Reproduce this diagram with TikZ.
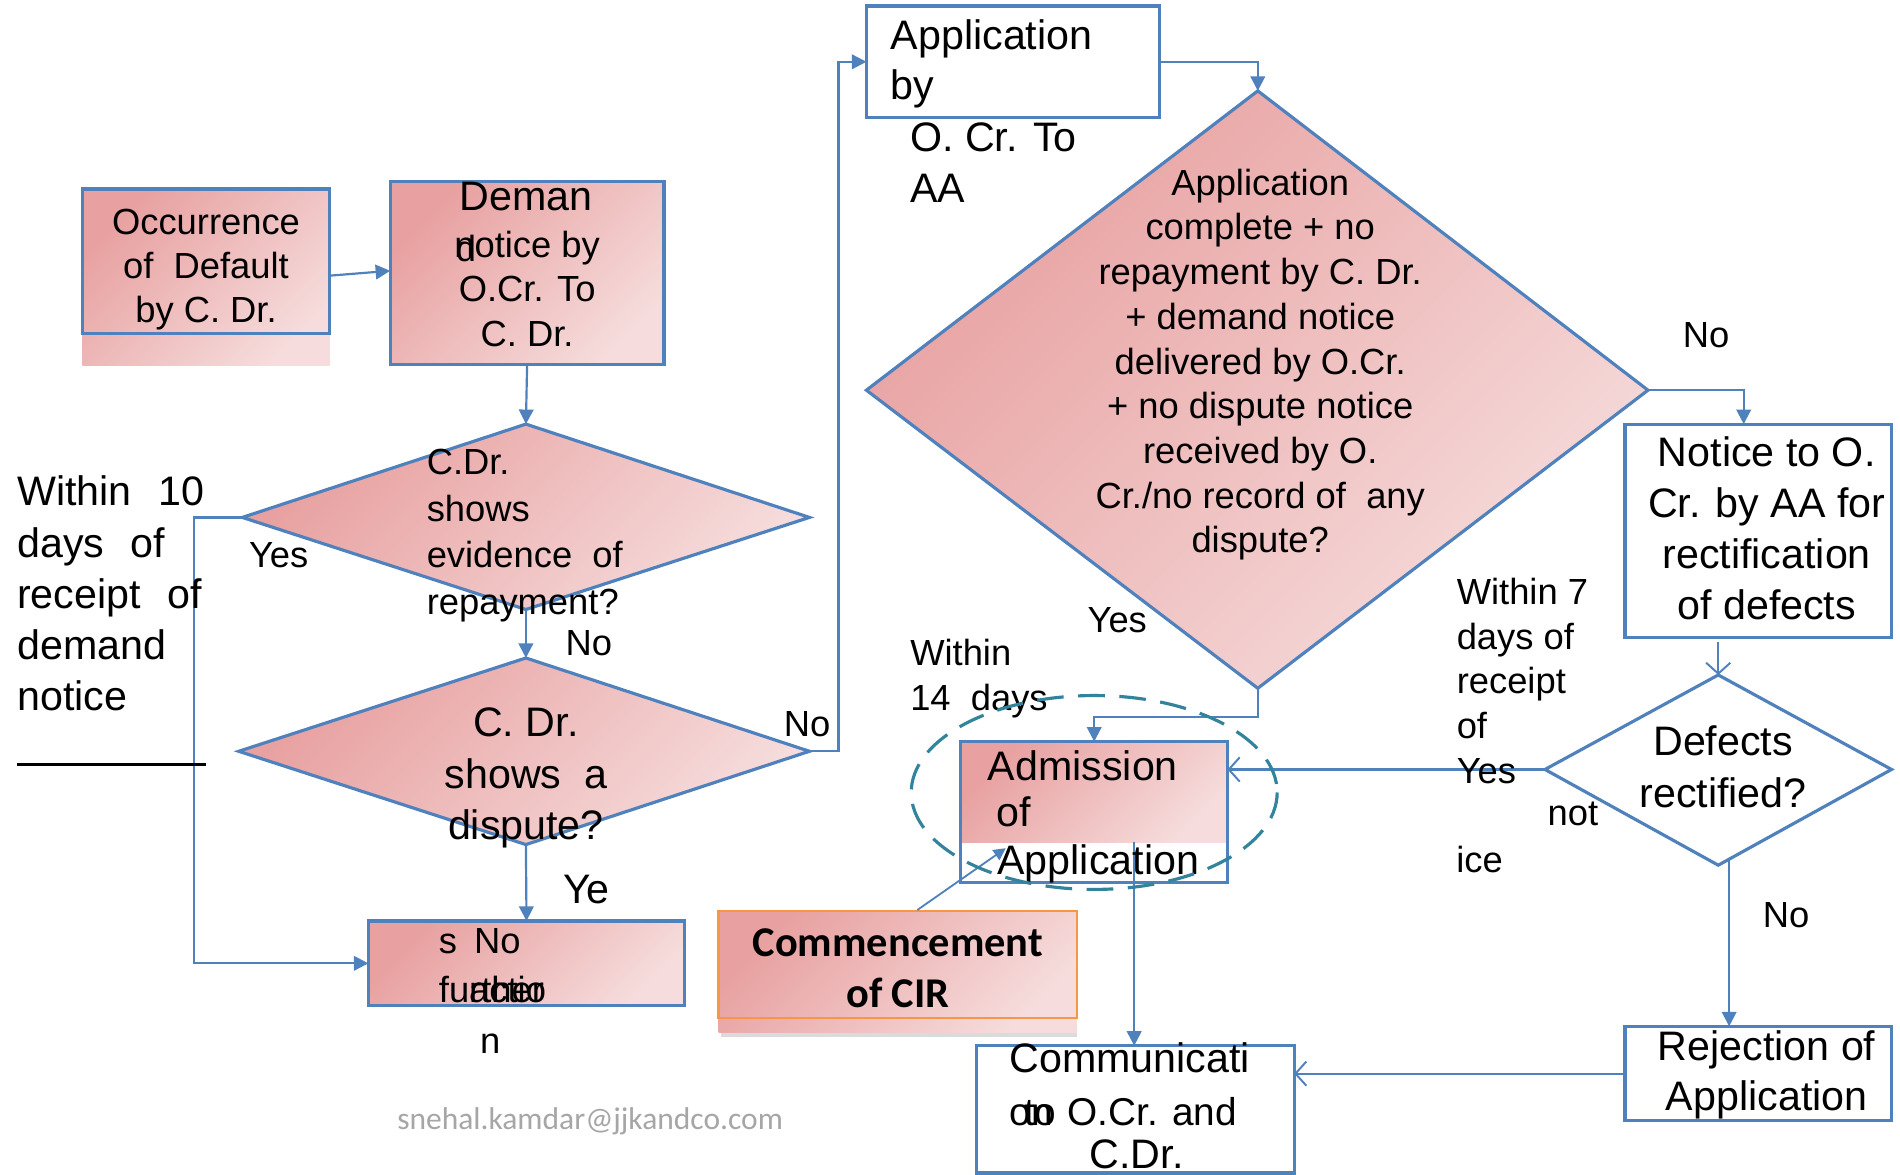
\documentclass[tikz,border=0pt]{standalone}
\usepackage{fontspec}
\setmainfont{Liberation Sans}
\newfontfamily\calfont{Carlito}
\usetikzlibrary{arrows.meta,calc}
\definecolor{bl}{HTML}{4F81BD}
\definecolor{pkA}{HTML}{E8A0A0}
\definecolor{pkB}{HTML}{F6DCDC}
\definecolor{tealdash}{HTML}{31849B}
\definecolor{orng}{HTML}{F79646}
\definecolor{mailgray}{HTML}{A6A6A6}
\begin{document}
\begin{tikzpicture}[x=1pt,y=-1pt,
  boxnode/.style={draw=bl, line width=2.6pt, inner sep=0pt, outer sep=0pt},
  pinkfill/.style={top color=pkA, bottom color=pkB, shading angle=45},
  conn/.style={draw=bl, line width=1.8pt, -{Triangle[length=12pt,width=12pt]}},
  openconn/.style={draw=bl, line width=1.8pt, -{Straight Barb[length=9pt,width=20pt,line width=1.6pt]}},
  lbl/.style={inner sep=0pt, align=center},
  lbll/.style={inner sep=0pt, align=left, anchor=west},
  ln/.style={inner sep=0pt, anchor=base west},
  f30/.style={font=\fontsize{30}{37}\selectfont},
  f34/.style={font=\fontsize{34}{42}\selectfont},
  diam/.style={draw=bl, line width=2.6pt, line join=miter},
]
\fill[white] (0,0) rectangle (1568,969);
\useasboundingbox (0,0) rectangle (1568,969);

% ---------- boxes ----------
\shade[pinkfill] (68,156) rectangle (272,302);
\node[boxnode, minimum width=204pt, minimum height=119pt] (occ) at (170,215.5) {};
\node[boxnode, pinkfill, minimum width=226pt, minimum height=151pt] (dem) at (435,225.5) {};
\node[boxnode, pinkfill, minimum width=261pt, minimum height=70pt] (nf) at (434.5,795) {};
\node[boxnode, fill=white, minimum width=242pt, minimum height=92pt] (app) at (836,51) {};
\node[boxnode, fill=white, minimum width=220pt, minimum height=176pt] (notc) at (1451,438) {};
\node[boxnode, fill=white, minimum width=220pt, minimum height=78pt] (rej) at (1451,886) {};
\shade[pinkfill] (793,612) rectangle (1013,695);
\node[boxnode, minimum width=220pt, minimum height=116pt] (adm) at (903,670) {};
\node[boxnode, fill=white, minimum width=262pt, minimum height=105pt] (com) at (937,915.5) {};
\fill[black!14] (595,852) rectangle (889,856);
\shade[pinkfill] (593,752) rectangle (889,852);
\node[draw=orng, line width=2pt, inner sep=0pt, minimum width=296pt, minimum height=88pt] (cir) at (741,796) {};

% ---------- decision diamonds ----------
\coordinate (d1T) at (434,350); \coordinate (d1R) at (668,427);
\coordinate (d1B) at (434,503); \coordinate (d1L) at (200,427);
\coordinate (d2T) at (434,543); \coordinate (d2R) at (668,620);
\coordinate (d2B) at (434,697); \coordinate (d2L) at (197,620);
\coordinate (d3T) at (1038,75); \coordinate (d3R) at (1360,322);
\coordinate (d3B) at (1038,568); \coordinate (d3L) at (715,322);
\coordinate (d4T) at (1418,557); \coordinate (d4R) at (1561,635);
\coordinate (d4B) at (1418,714); \coordinate (d4L) at (1275,635);
\draw[diam, pinkfill] (d1T) -- (d1R) -- (d1B) -- (d1L) -- cycle;
\draw[diam, pinkfill] (d2T) -- (d2R) -- (d2B) -- (d2L) -- cycle;
\draw[diam, pinkfill] (d3T) -- (d3R) -- (d3B) -- (d3L) -- cycle;
\draw[diam, fill=white] (d4T) -- (d4R) -- (d4B) -- (d4L) -- cycle;

% ---------- connectors ----------
\draw[conn] ($(occ.east)+(0,12)$) -- ($(dem.west)+(0,-2)$);
\draw[conn] (dem.south) -- (d1T);
\draw[conn] (d1B) -- (d2T);
\draw[conn] (d1L) -- ++(-40,0) |- (nf.west);
\draw[conn] (d2B) -- (nf.north);
\draw[conn] (d2R) -- ++(24,0) |- (app.west);
\draw[conn] (app.east) -| (d3T);
\draw[conn] (d3R) -| ($(notc.north)+(-12,0)$);
\draw[conn] (d3B) -- ++(0,24) -| (adm.north);
\draw[openconn] ($(d4T |- notc.south)+(0,4)$) -- (d4T);
\draw[openconn] (d4L) -- (d4L -| adm.east);
\coordinate (d4s) at (1427,709);
\draw[conn] (d4s) -- (d4s |- rej.north);
\draw[openconn] (rej.west) -- (rej.west -| com.east);
\coordinate (admout) at (936,695);
\draw[conn] (admout) -- (admout |- com.north);
\coordinate (cirtip) at (830,700);
\draw[draw=bl, line width=1.5pt, -{Triangle[length=10pt,width=10pt]}] ($(cir.north west)+(165,0)$) -- (cirtip);

% ---------- texts ----------
\node[lbl, font=\fontsize{30}{36.5}\selectfont] (occT) at (170,222.5) {Occurrence\\of\ \ Default\\by C. Dr.};
\node[lbl, font=\fontsize{34}{40}\selectfont] (demT1) at (434,162) {Deman};
\node[lbl, font=\fontsize{30}{36.5}\selectfont] (demT2) at (435,238.5) {notice by\\O.Cr. To\\C. Dr.};
\node[ln, font=\fontsize{30}{36}\selectfont] (demT3) at (376,216) {d};

\node[lbll, font=\fontsize{30}{38.7}\selectfont] (d1Tx) at (352,442) {C.Dr.\\shows\\evidence\ \ of\\repayment?};
\node[lbl, font=\fontsize{34}{42.5}\selectfont] (d2Tx) at (434,642) {C. Dr.\\shows\ \ a\\dispute?};

\node[ln, f30] (nfT1) at (362,787) {s\hspace{14pt}No};
\node[ln, f30] (nfT2) at (362,827) {further};
\node[ln, f30] (nfT3) at (387,827) {actio};
\node[ln, f30] (nfT4) at (396,869) {n};

\node[lbll, font=\fontsize{34}{42.3}\selectfont] (leftT) at (14,490) {Within\hspace{22pt}10\\days\hspace{22pt}of\\receipt\hspace{22pt}of\\demand\\notice};
\draw[black, line width=2pt] (14,631) -- (170,631);

\node[ln, font=\fontsize{34}{42}\selectfont] (appT1) at (735,41) {Application};
\node[ln, font=\fontsize{34}{42}\selectfont] (appT2) at (735,82) {by};
\node[ln, font=\fontsize{34}{42}\selectfont] (appT3) at (751,125) {O. Cr. To};
\node[ln, font=\fontsize{34}{42}\selectfont] (appT4) at (751,167) {AA};

\node[lbl, font=\fontsize{30}{36.9}\selectfont] (d3Tx) at (1040,301) {Application\\complete + no\\repayment by C. Dr.\\+ demand notice\\delivered by O.Cr.\\+ no dispute notice\\received by O.\\Cr./no record of\ \ any\\dispute?};

\node[lbl, f34] (notcT) at (1458,436) {Notice to O.\\Cr. by AA for\\rectification\\of defects};
\node[lbl, font=\fontsize{34}{43}\selectfont] (d4Tx) at (1422,633) {Defects\\rectified?};
\node[lbl, font=\fontsize{34}{41}\selectfont] (rejT) at (1458,887) {Rejection of\\Application};

\node[ln, f34] (admT1) at (815,644) {Admission};
\node[ln, f34] (admT2) at (822,682) {of};
\node[ln, f34] (admT3) at (823,722) {Application};

\node[ln, f34] (comT1) at (833,885) {Communicati};
\node[ln, font=\fontsize{32}{40}\selectfont] (comT2) at (833,929) {on};
\node[ln, font=\fontsize{32}{40}\selectfont] (comT3) at (845,929) {to O.Cr. and};
\node[inner sep=0pt, anchor=base, f34] (comT4) at (938,964) {C.Dr.};

\node[lbl, font={\calfont\bfseries\fontsize{35}{42}\selectfont}] (cirT) at (741,799) {Commencement\\of CIR};

\node[lbll, f30] (w14) at (751,560) {Within\\14\ \ days};
\node[lbll, f30] (w7) at (1202,562) {Within 7\\days of\\receipt\\of\\Yes};

\node[lbl, f30] (lYes1) at (230,458) {Yes};
\node[lbl, f30] (lNo1) at (486,531) {No};
\node[lbl, f30] (lNo2) at (666,598) {No};
\node[lbl, f34] (lYe) at (484,734) {Ye};
\node[lbl, f30] (lYes2) at (922,512) {Yes};
\node[lbl, f30] (lNo3) at (1408,277) {No};
\node[lbl, f30] (lnot) at (1298,672) {not};
\node[lbl, f30] (lice) at (1221,709) {ice};
\node[lbl, f30] (lNo4) at (1474,755) {No};

\node[lbl, text=mailgray, font={\calfont\fontsize{26}{30}\selectfont}] (mail) at (487,925) {snehal.kamdar@jjkandco.com};

% dashed highlight round the admission step
\draw[tealdash, line width=2.6pt, dash pattern=on 22pt off 12pt] (903,654) ellipse [x radius=151, y radius=80];
\end{tikzpicture}
\end{document}
